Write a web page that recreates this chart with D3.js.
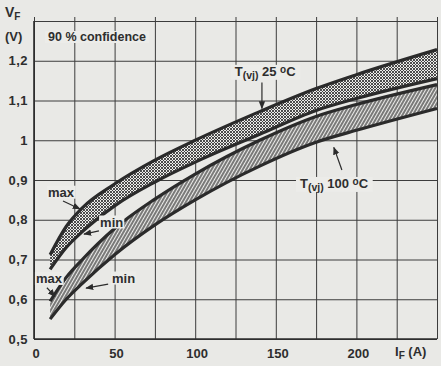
<!DOCTYPE html>
<html>
<head>
<meta charset="utf-8">
<script src="https://cdn.jsdelivr.net/npm/d3@7/dist/d3.min.js"></script>
<style>
  html, body { margin: 0; padding: 0; background: #e9e9e6; }
  svg { display: block; }
  text { font-family: "Liberation Sans", Arial, sans-serif; font-weight: bold; fill: #2e2e2e; }
</style>
</head>
<body>
<svg id="chart" width="441" height="366"></svg>
<script>
// forward current I_F (A) and forward voltage V_F (V)
const current = [10, 20, 30, 50, 75, 100, 140, 175, 200, 250];
const vf25Max = [0.712, 0.783, 0.83, 0.89, 0.95, 1.0, 1.072, 1.13, 1.165, 1.228];
const vf25Min = [0.675, 0.73, 0.77, 0.835, 0.895, 0.945, 1.015, 1.075, 1.105, 1.155];
const vf100Max = [0.595, 0.655, 0.70, 0.778, 0.852, 0.915, 1.0, 1.06, 1.09, 1.14];
const vf100Min = [0.55, 0.60, 0.64, 0.712, 0.787, 0.85, 0.935, 0.995, 1.025, 1.08];

const xGrid = d3.range(0, 251, 25);
const yGrid = [0.5, 0.6, 0.7, 0.8, 0.9, 1.0, 1.1, 1.2, 1.3];
const xLabels = [0, 50, 100, 150, 200];
const yLabels = [0.5, 0.6, 0.7, 0.8, 0.9, 1.0, 1.1, 1.2];

// max / min pointers: [label, text I, text V, arrow from I, V, arrow to I, V]
const pointers = [
  ['max', 8.7, 0.858, 18, 0.847, 28.5, 0.827],
  ['min', 41, 0.783, 40.3, 0.772, 31, 0.764],
  ['max', 1.2, 0.641, 8, 0.629, 13, 0.607],
  ['min', 48.4, 0.642, 46, 0.638, 32.3, 0.628]
];
// temperature tags: [temperature, text I, text V, arrow from I, V, arrow to I, V]
const tempTags = [
  ['25', 124.5, 1.162, 141.4, 1.145, 141.4, 1.08],
  ['100', 165, 0.88, 191, 0.925, 186, 0.982]
];

const svg = d3.select('#chart');
const x = d3.scaleLinear().domain([0, 250]).range([34, 437]);
const y = d3.scaleLinear().domain([0.5, 1.3]).range([339, 21]);
const ink = '#2b2b2b';

const defs = svg.append('defs');
const cross = defs.append('pattern').attr('id', 'cross').attr('patternUnits', 'userSpaceOnUse')
  .attr('width', 3).attr('height', 3);
cross.append('rect').attr('width', 3).attr('height', 3).attr('fill', '#ececea');
cross.append('path').attr('d', 'M0,0L3,3M3,0L0,3').attr('stroke', '#3a3a3a').attr('stroke-width', 0.9);

const hatch = defs.append('pattern').attr('id', 'hatch').attr('patternUnits', 'userSpaceOnUse')
  .attr('width', 3).attr('height', 3).attr('patternTransform', 'rotate(30)');
hatch.append('rect').attr('width', 3).attr('height', 3).attr('fill', '#ececea');
hatch.append('line').attr('x1', 1).attr('x2', 1).attr('y1', 0).attr('y2', 3)
  .attr('stroke', '#353535').attr('stroke-width', 1.25);

defs.append('marker').attr('id', 'head').attr('viewBox', '0 0 10 10').attr('refX', 9).attr('refY', 5)
  .attr('markerWidth', 8).attr('markerHeight', 8).attr('markerUnits', 'userSpaceOnUse').attr('orient', 'auto')
  .append('path').attr('d', 'M0,1L10,5L0,9Z').attr('fill', ink);

// grid
svg.append('g')
  .attr('transform', `translate(0,${y(0.5)})`)
  .call(d3.axisBottom(x).tickValues(xGrid).tickSize(-(y(0.5) - 17)).tickFormat(''))
  .call((g) => g.select('.domain').remove())
  .call((g) => g.selectAll('line').attr('stroke', '#3c3c3c').attr('stroke-width', 1));
svg.append('g')
  .attr('transform', `translate(${x(0)},0)`)
  .call(d3.axisLeft(y).tickValues(yGrid).tickSize(-(x(250) - x(0))).tickFormat(''))
  .call((g) => g.select('.domain').remove())
  .call((g) => g.selectAll('line').attr('stroke', '#3c3c3c').attr('stroke-width', 1));

// main axes
svg.append('line').attr('x1', x(0)).attr('x2', x(0)).attr('y1', y(1.3)).attr('y2', y(0.5))
  .attr('stroke', ink).attr('stroke-width', 1.6);
svg.append('line').attr('x1', x(0)).attr('x2', x(250)).attr('y1', y(0.5)).attr('y2', y(0.5))
  .attr('stroke', ink).attr('stroke-width', 1.6);

// tick labels
svg.append('g').selectAll('text').data(xLabels).join('text')
  .attr('x', (d) => x(d) + 2).attr('y', 358).attr('text-anchor', 'middle').attr('font-size', 13)
  .text((d) => d);
svg.append('g').selectAll('text').data(yLabels).join('text')
  .attr('x', 28).attr('y', (d) => y(d)).attr('dy', '0.36em').attr('text-anchor', 'end')
  .attr('font-size', 13).attr('letter-spacing', 0.5)
  .text((d) => String(d).replace('.', ','));

const vLab = svg.append('text').attr('x', 5).attr('y', 17).attr('font-size', 14);
vLab.append('tspan').text('V');
vLab.append('tspan').attr('font-size', 10).attr('dy', 3).text('F');
svg.append('text').attr('x', 5).attr('y', 41).attr('font-size', 13).text('(V)');
const iLab = svg.append('text').attr('x', 395).attr('y', 356).attr('font-size', 13);
iLab.append('tspan').text('I');
iLab.append('tspan').attr('font-size', 10).attr('dy', 3).text('F');
iLab.append('tspan').attr('dy', -3).text(' (A)');

// bands
const rows = current.map((c, i) => ({ c, a: vf25Max[i], b: vf25Min[i], p: vf100Max[i], q: vf100Min[i] }));
const curve = d3.curveMonotoneX;
const band = (hi, lo) => d3.area().curve(curve).x((d) => x(d.c)).y0((d) => y(d[lo])).y1((d) => y(d[hi]));
const edge = (k) => d3.line().curve(curve).x((d) => x(d.c)).y((d) => y(d[k]));

svg.append('path').datum(rows).attr('d', band('a', 'b')).attr('fill', 'url(#cross)');
svg.append('path').datum(rows).attr('d', band('p', 'q')).attr('fill', 'url(#hatch)');
['a', 'b', 'p', 'q'].forEach((k) => {
  svg.append('path').datum(rows).attr('d', edge(k)).attr('fill', 'none')
    .attr('stroke', ink).attr('stroke-width', 3.2);
});

// helper: label with paper-coloured knockout behind it
function knockout(textSel, pad) {
  const bb = textSel.node().getBBox();
  svg.insert('rect', () => textSel.node())
    .attr('x', bb.x - pad).attr('y', bb.y + 1).attr('width', bb.width + 2 * pad).attr('height', bb.height - 2)
    .attr('fill', '#ecece9');
}

const conf = svg.append('text').attr('x', 48).attr('y', 41).attr('font-size', 12.5).text('90 % confidence');
knockout(conf, 3);

pointers.forEach(([label, tx, ty, ax, ay, bx, by]) => {
  const t = svg.append('text').attr('x', x(tx)).attr('y', y(ty)).attr('font-size', 13).text(label);
  knockout(t, 1);
  svg.append('line').attr('x1', x(ax)).attr('y1', y(ay)).attr('x2', x(bx)).attr('y2', y(by))
    .attr('stroke', ink).attr('stroke-width', 1.2).attr('marker-end', 'url(#head)');
});

tempTags.forEach(([temp, tx, ty, ax, ay, bx, by]) => {
  const t = svg.append('text').attr('x', x(tx)).attr('y', y(ty)).attr('font-size', 13);
  t.append('tspan').text('T');
  t.append('tspan').attr('font-size', 10.5).attr('dy', 3).text('(vj)');
  t.append('tspan').attr('dy', -3).text(` ${temp} `);
  t.append('tspan').attr('font-size', 10).attr('dy', -3).text('o');
  t.append('tspan').attr('dy', 3).text('C');
  knockout(t, 4);
  svg.append('line').attr('x1', x(ax)).attr('y1', y(ay)).attr('x2', x(bx)).attr('y2', y(by))
    .attr('stroke', ink).attr('stroke-width', 1.2).attr('marker-end', 'url(#head)');
});
</script>
</body>
</html>
